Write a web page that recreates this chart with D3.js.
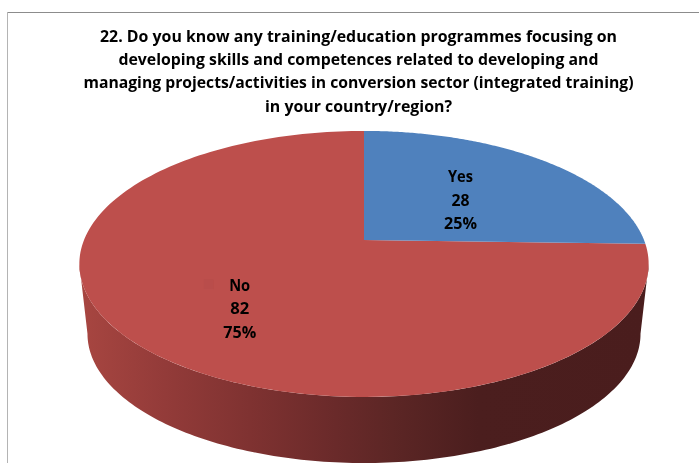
<!DOCTYPE html>
<html>
<head>
<meta charset="utf-8">
<script src="https://cdn.jsdelivr.net/npm/d3@7"></script>
<style>
html,body{margin:0;padding:0;background:#fff;overflow:hidden}
svg{display:block}
text{font-family:"Open Sans","Liberation Sans",Arial,sans-serif;font-weight:bold;fill:#000}
</style>
</head>
<body>
<svg id="c" width="699" height="463"></svg>
<script>
const categories = ["Yes", "No"];
const counts = [28, 82];
const sliceColors = ["#4f81bd", "#bd4f4c"];
const titleLines = [
  "22. Do you know any training/education programmes focusing on",
  "developing skills and competences related to developing and",
  "managing projects/activities in conversion sector (integrated training)",
  "in your country/region?"
];
const titleWidths = [517, 480, 550, 187];
const titleBaselines = [42, 65, 88, 112];

const svg = d3.select("#c");
const defs = svg.append("defs");
const soft = defs.append("filter").attr("id", "soft");
soft.append("feGaussianBlur").attr("stdDeviation", 0.35);

// chart frame
svg.append("line").attr("x1", 7).attr("x2", 699).attr("y1", 12.5).attr("y2", 12.5).attr("stroke", "#8c8c8c");
svg.append("line").attr("x1", 7.5).attr("x2", 7.5).attr("y1", 12).attr("y2", 463).attr("stroke", "#b4b4b4");

// title
const titleG = svg.append("g").attr("filter", "url(#soft)");
titleLines.forEach((t, i) => {
  titleG.append("text").attr("x", 358.5).attr("y", titleBaselines[i])
    .attr("text-anchor", "middle").attr("font-size", 16)
    .attr("textLength", titleWidths[i]).attr("lengthAdjust", "spacingAndGlyphs").text(t);
});

// perspective pie: homography of the unit disc
const k = 0.18;
function projector(cx, cy, B, A) {
  return (r, a) => {
    const u = r * Math.sin(a), v = r * Math.cos(a), w = 1 + k * v;
    return [cx + B * u / w, cy - A * v / w];
  };
}
const topP = projector(364, 240, 280, 128.7);
const botP = projector(364, 310.6, 272, 125);
const line = d3.line();

const arcs = d3.pie().sort(null).startAngle(0).endAngle(2 * Math.PI)(counts);
const total = d3.sum(counts);
const pct = d3.format(".0%");

// side wall: between silhouette tangent angles
const aL = 2 * Math.PI - Math.acos(-k), aR = Math.acos(-k);
const samples = (a0, a1, n) => d3.range(n + 1).map(i => a0 + (a1 - a0) * i / n);
const wallPts = samples(aR, aL, 160).map(a => topP(1, a))
  .concat(samples(aL, aR, 160).map(a => botP(1, a)));

const grad = defs.append("linearGradient").attr("id", "wall")
  .attr("gradientUnits", "userSpaceOnUse").attr("x1", 79).attr("x2", 649).attr("y1", 0).attr("y2", 0);
[[0, "#a84641"], [0.15, "#933b39"], [0.3, "#7f3231"], [0.45, "#6a2a2a"], [0.55, "#5c2625"], [0.7, "#4b1e1e"], [1, "#4a1d1d"]]
  .forEach(s => grad.append("stop").attr("offset", s[0]).attr("stop-color", s[1]));

svg.append("path").attr("d", line(wallPts) + "Z").attr("fill", "url(#wall)");

// top faces
svg.append("g").selectAll("path").data(arcs.slice().reverse()).join("path")
  .attr("d", d => line([topP(0, 0)].concat(samples(d.startAngle, d.endAngle, 180).map(a => topP(1, a)))) + "Z")
  .attr("fill", d => sliceColors[d.index]);

// data labels
const labelRadius = [0.5, 0.6];
const labelNudge = [[2, 2], [6, 10]];
const labels = svg.append("g").attr("filter", "url(#soft)");
arcs.forEach((d, i) => {
  const mid = (d.startAngle + d.endAngle) / 2;
  const p = topP(labelRadius[i], mid);
  const x = p[0] + labelNudge[i][0], y = p[1] + labelNudge[i][1];
  if (i === 1) {
    labels.append("rect").attr("x", x - 36).attr("y", y - 29).attr("width", 10).attr("height", 10).attr("fill", "#b94d4b");
  }
  [categories[i], counts[i], pct(counts[i] / total)].forEach((t, j) => {
    labels.append("text").attr("x", x).attr("y", y + (j - 1) * 23.5 + 6)
      .attr("text-anchor", "middle").attr("font-size", 16.5)
      .attr("textLength", [[25, 18, 33], [21, 19, 33]][i][j]).attr("lengthAdjust", "spacingAndGlyphs")
      .text(t);
  });
});
</script>
</body>
</html>
